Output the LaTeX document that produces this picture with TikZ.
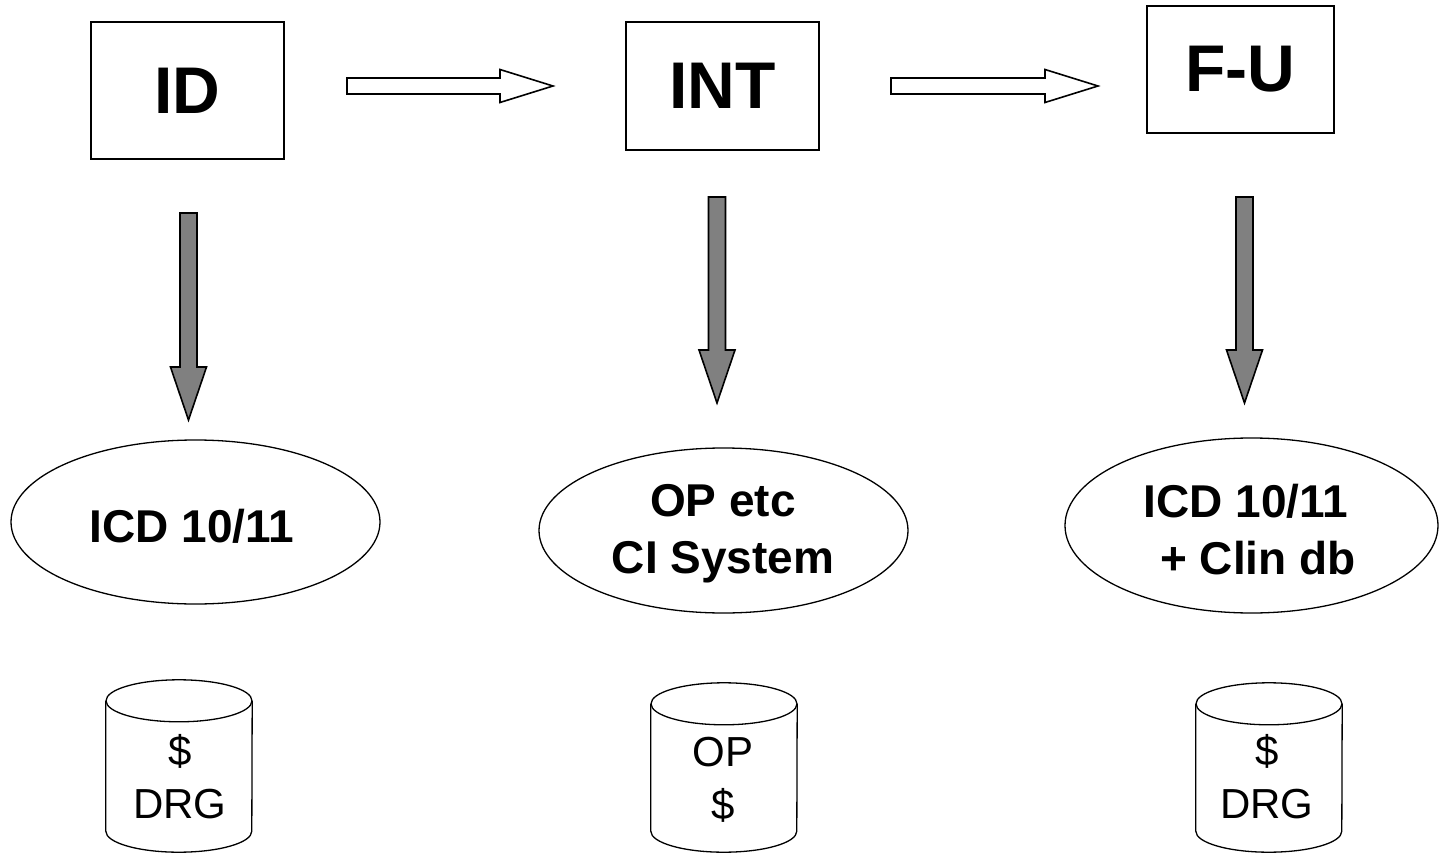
\documentclass[tikz,border=0pt]{standalone}
\usepackage{fontspec}
\setmainfont{Liberation Sans}
\usetikzlibrary{shapes.geometric,calc}
\definecolor{arrowgray}{RGB}{128,128,128}
\newcommand\hblock[2]{\draw[harrow] let \p1=(#1), \p2=(#2) in
  (\x1,\y1+8pt) -- (\x2-53pt,\y1+8pt) -- (\x2-53pt,\y1+16.5pt) -- (\x2,\y1)
  -- (\x2-53pt,\y1-16.5pt) -- (\x2-53pt,\y1-8pt) -- (\x1,\y1-8pt) -- cycle;}
\newcommand\vblock[2]{\draw[varrow] let \p1=(#1), \p2=(#2) in
  (\x1-8.5pt,\y1) -- (\x1-8.5pt,\y2+53pt) -- (\x1-18pt,\y2+53pt) -- (\x1,\y2)
  -- (\x1+18pt,\y2+53pt) -- (\x1+8.5pt,\y2+53pt) -- (\x1+8.5pt,\y1) -- cycle;}
\newcommand\cylout[1]{%
  \draw[cylline] ([yshift=-21pt]#1.north west) -- ([yshift=21pt]#1.south west)
    arc[start angle=180,end angle=360,x radius=73pt,y radius=21pt]
    -- ([yshift=-21pt]#1.north east);
  \draw[cylline] ([yshift=-21pt]#1.north) ellipse [x radius=73pt,y radius=21pt];}
\begin{document}
\begin{tikzpicture}[x=1pt,y=-1pt,
  stage/.style={draw=black, line width=1.8pt, fill=white, inner sep=0pt,
    font=\fontsize{66}{70}\bfseries\selectfont},
  codeell/.style={draw=black, line width=1.3pt, ellipse, inner sep=0pt},
  codetext/.style={align=center, inner sep=0pt, font=\fontsize{46}{57}\bfseries\selectfont},
  cylbody/.style={inner sep=0pt, minimum width=146pt},
  cyltext/.style={align=center, inner sep=0pt, font=\fontsize{42}{53}\selectfont},
  cylline/.style={draw=black, line width=1.3pt},
  harrow/.style={draw=black, line width=1.6pt, fill=white, line join=miter},
  varrow/.style={draw=black, line width=1.6pt, fill=arrowgray, line join=miter},
]
\useasboundingbox (0,0) rectangle (1441,853);
\fill[white] (0,0) rectangle (1441,853);

% stage boxes
\node[stage, minimum width=193pt, minimum height=137pt] (id) at (187.5,90.5) {ID};
\node[stage, minimum width=193pt, minimum height=128pt] (int) at (722.5,86) {INT};
\node[stage, minimum width=187pt, minimum height=127pt] (fu) at (1240.5,69.5) {F-U};

% horizontal block arrows
\coordinate (h1s) at (347,86);  \coordinate (h1e) at (553,86);
\coordinate (h2s) at (891,86);  \coordinate (h2e) at (1098,86);
\hblock{h1s}{h1e}
\hblock{h2s}{h2e}

% coding ellipses
\node[codeell, minimum width=369pt, minimum height=164pt] (e1) at (195.5,522) {};
\node[codetext] (t1) at (192,526) {ICD 10/11};
\node[codeell, minimum width=369pt, minimum height=165pt] (e2) at (723.5,530.5) {};
\node[codetext] (t2) at (723,534) {OP etc\\CI System};
\node[codeell, minimum width=373pt, minimum height=175pt] (e3) at (1251.5,525.5) {};
\node[codetext] (t3) at (1246,529.5) {ICD 10/11\\\hspace*{24pt}+ Clin db};

% vertical block arrows
\coordinate (v1s) at (188.5,213);  \coordinate (v1e) at (188.5,420);
\coordinate (v2s) at (717,197);    \coordinate (v2e) at (717,403);
\coordinate (v3s) at (1244.5,197); \coordinate (v3e) at (1244.5,403);
\vblock{v1s}{v1e}
\vblock{v2s}{v2e}
\vblock{v3s}{v3e}

% databases
\node[cylbody, minimum height=172pt] (db1) at (179,766) {};
\cylout{db1}
\node[cyltext] (d1) at (180,777) {\$\\DRG};
\node[cylbody, minimum height=169pt] (db2) at (724,767.5) {};
\cylout{db2}
\node[cyltext] (d2) at (723,779.5) {OP\\\$};
\node[cylbody, minimum height=169pt] (db3) at (1269,767.5) {};
\cylout{db3}
\node[cyltext] (d3) at (1267,777) {\$\\DRG};
\end{tikzpicture}
\end{document}
